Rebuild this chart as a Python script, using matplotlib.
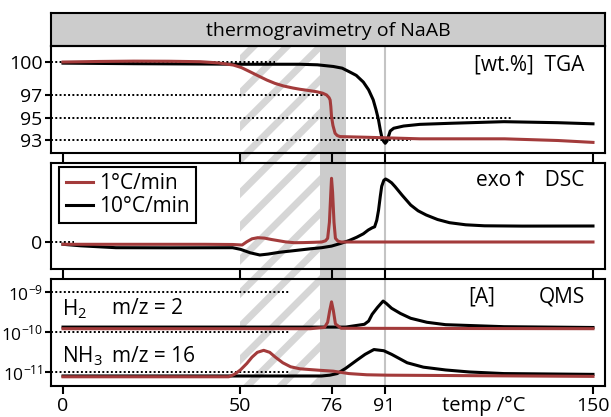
import numpy as np
import matplotlib
matplotlib.use("Agg")
import matplotlib.pyplot as plt

plt.rcParams['font.family'] = ['Open Sans', 'DejaVu Sans']
plt.rcParams['mathtext.fontset'] = 'custom'
plt.rcParams['mathtext.rm'] = 'Open Sans'
plt.rcParams['mathtext.it'] = 'Open Sans:italic'
plt.rcParams['axes.unicode_minus'] = False
plt.rcParams['hatch.linewidth'] = 5.0

RED = '#a33b3b'
GRAY = '#cccccc'

# ---- data ----
xticks = [0, 50, 76, 91, 150]

# TGA [wt.%]
tga_red_t = [0, 10, 20, 30, 38.8, 44, 48.2, 50.5, 52.9, 55.3, 57.7, 60, 62.4, 65, 67.1, 70, 71.8,
             73.5, 74.6, 75.3, 75.6, 75.8, 76.0, 76.4, 77.0, 77.6, 78.4, 86, 101, 125, 140, 150]
tga_red = [100.0, 100.05, 100.08, 100.07, 100.03, 99.92, 99.73, 99.5, 99.13, 98.75, 98.38, 98.08,
           97.85, 97.67, 97.55, 97.42, 97.33, 97.2, 97.04, 96.8, 96.59, 96.0, 95.09, 94.3, 93.6,
           93.4, 93.3, 93.24, 93.1, 93.1, 92.95, 92.78]
tga_blk_t = [0, 20, 40, 50, 60, 67, 72, 76.5, 79, 81.2, 83, 85, 86.5, 87.8, 88.6, 89.3, 89.8, 90.2,
             90.7, 91.2, 91.7, 92.1, 92.6, 93.6, 96.4, 101, 110, 124.8, 140, 150]
tga_blk = [99.9, 99.85, 99.82, 99.8, 99.8, 99.8, 99.75, 99.6, 99.45, 99.1, 98.8, 98.2, 97.5, 96.6,
           95.7, 94.8, 93.9, 93.3, 92.9, 92.7, 92.9, 93.3, 93.8, 94.05, 94.25, 94.4, 94.5, 94.64,
           94.55, 94.45]

# DSC [a.u.]
dsc_red_t = [0, 20, 40, 48, 50.7, 52, 53.5, 55.1, 57, 59, 61, 63, 65.5, 68, 71, 73.2, 74.3, 74.9,
             75.4, 75.8, 76.0, 76.3, 76.7, 77.1, 77.8, 78.7, 90, 150]
dsc_red = [-2, -2, -2, -2.2, -2.7, 0.5, 3.5, 4.6, 4.2, 2.8, 1.6, 0.4, -0.4, -0.3, 0, 0.3, 1.5, 4,
           20, 50, 64, 50, 20, 4, 1.2, 0.3, 0.3, 0.3]
dsc_blk_t = [0, 5, 15, 30, 48, 50.2, 53, 55.7, 58, 61.2, 65, 70, 73.2, 76, 78.7, 81, 83.1, 85, 86.4,
             87.5, 88.2, 88.8, 89.3, 89.8, 90.2, 90.8, 91.3, 92, 93, 94, 96, 98.4, 100.5, 102.8,
             106, 109.4, 114, 119.3, 130, 150]
dsc_blk = [-2, -3.5, -5.4, -5.5, -5.4, -7, -10.5, -12.7, -11.8, -10, -8.5, -6.5, -5.4, -3.8, -1,
           1.8, 5, 8.5, 12.3, 14.5, 15.5, 22, 32, 46, 56, 62, 63.3, 62, 59.5, 55.6, 47, 37.3, 31.5,
           27.3, 22.8, 19.6, 17.5, 16.5, 16.2, 16.3]

# QMS, log10 of ion current [A]
h2_red_t = [0, 70, 74, 74.9, 75.5, 76, 76.5, 77.1, 78.7, 150]
h2_red_log = [-9.91, -9.91, -9.88, -9.75, -9.45, -9.24, -9.45, -9.79, -9.9, -9.91]
h2_blk_t = [0, 80, 85.3, 86.5, 87.5, 89, 90.6, 91.5, 93, 95.5, 98.4, 103, 108.3, 124.8, 150]
h2_blk_log = [-9.87, -9.87, -9.8, -9.72, -9.55, -9.38, -9.22, -9.28, -9.4, -9.53, -9.65, -9.75,
              -9.81, -9.86, -9.88]
nh3_red_t = [0, 46.9, 48.5, 50.2, 52, 53.5, 55, 56.8, 58.5, 60.1, 62.2, 64.4, 67, 69.9, 73, 76.5,
             80.9, 86, 91.9, 150]
nh3_red_log = [-11.11, -11.11, -11.05, -10.94, -10.78, -10.62, -10.5, -10.45, -10.5, -10.62,
               -10.76, -10.86, -10.91, -10.93, -10.95, -10.97, -11.03, -11.06, -11.07, -11.1]
nh3_blk_t = [0, 73.2, 75.5, 77.6, 80, 83.1, 85.5, 88, 90.8, 93, 97.4, 102, 108.3, 115, 124.8, 150]
nh3_blk_log = [-11.09, -11.09, -11.07, -11.03, -10.9, -10.7, -10.55, -10.43, -10.46, -10.55,
               -10.76, -10.87, -10.94, -10.99, -11.03, -11.05]

W, H = 611, 417
XL, XR = 51, 605
xlim = (-3.4, 153.4)


def rect(top, bottom):
    return [XL / W, 1 - bottom / H, (XR - XL) / W, (bottom - top) / H]


fig = plt.figure(figsize=(W / 100, H / 100), dpi=100)

# background: hatched/grey regions and the 91 line, running through all panels
bg = fig.add_axes(rect(46, 386), zorder=0)
bg.set_xlim(xlim)
bg.set_ylim(0, 1)
bg.axis('off')
bg.axvspan(50, 72.7, facecolor='white', edgecolor='#d6d6d6', hatch='/', lw=0)
bg.axvspan(72.7, 80, facecolor=GRAY, lw=0)
bg.axvline(91, color='#c4c4c4', lw=1.5)

# title strip
tax = fig.add_axes(rect(13.3, 46), zorder=2)
tax.set_facecolor(GRAY)
tax.set_xticks([])
tax.set_yticks([])
tax.text(0.5, 0.45, 'thermogravimetry of NaAB', ha='center', va='center', fontsize=14,
         transform=tax.transAxes)

ax1 = fig.add_axes(rect(46, 153.3), zorder=2)
ax2 = fig.add_axes(rect(162.7, 268.5), zorder=2)
ax3 = fig.add_axes(rect(279, 386), zorder=2)

for ax, tl in [(ax1, 7.0), (ax2, 7.5), (ax3, 5.8)]:
    ax.patch.set_alpha(0)
    ax.set_xlim(xlim)
    ax.set_xticks(xticks)
    ax.tick_params(axis='x', direction='out', length=tl, width=1.5, labelsize=14, pad=2)
    ax.tick_params(axis='y', direction='out', length=4.5, width=1.5, labelsize=14, pad=1.5)
    ax.minorticks_off()
    for s in ax.spines.values():
        s.set_linewidth(1.5)
for s in tax.spines.values():
    s.set_linewidth(1.5)
ax1.tick_params(axis='x', labelbottom=False)
ax2.tick_params(axis='x', labelbottom=False)

dots = dict(color='black', ls=(0, (1, 1.2)), lw=1.4, zorder=1)

# TGA
ax1.set_ylim(91.8, 101.44)
ax1.set_yticks([100, 97, 95, 93])
ax1.hlines([100, 97, 95, 93], xlim[0], [60, 73.6, 127.5, 98.5], **dots)
ax1.plot(tga_blk_t, tga_blk, color='black', lw=2.2, zorder=3)
ax1.plot(tga_red_t, tga_red, color=RED, lw=2.2, zorder=4)
ax1.text(0.963, 0.82, '[wt.%]  TGA', ha='right', va='center', fontsize=15, transform=ax1.transAxes)

# DSC
ax2.set_ylim(-26.2, 79.6)
ax2.set_yticks([0])
ax2.hlines([0], xlim[0], 3, **dots)
lr, = ax2.plot(dsc_red_t, dsc_red, color=RED, lw=2.2, zorder=4, label='1°C/min')
lb, = ax2.plot(dsc_blk_t, dsc_blk, color='black', lw=2.2, zorder=3, label='10°C/min')
ax2.text(0.963, 0.83, 'exo\u2191   DSC', ha='right', va='center', fontsize=15, transform=ax2.transAxes)
leg = ax2.legend(handles=[lr, lb], loc='upper left', bbox_to_anchor=(0.015, 0.962), borderaxespad=0,
                 fontsize=15, handlelength=1.3, handletextpad=0.3, labelspacing=0.1,
                 borderpad=0.3, fancybox=False, framealpha=1, edgecolor='black')
leg.get_frame().set_linewidth(1.5)

# QMS
ax3.set_yscale('log')
ax3.set_ylim(10 ** -11.34, 10 ** -8.67)
ax3.set_yticks([1e-9, 1e-10, 1e-11])
ax3.minorticks_off()
ax3.tick_params(axis='y', labelsize=12.5, pad=1)
ax3.hlines([1e-9, 1e-10, 1e-11], xlim[0], 63.9, **dots)
ax3.plot(h2_blk_t, 10.0 ** np.array(h2_blk_log), color='black', lw=2.2, zorder=3)
ax3.plot(h2_red_t, 10.0 ** np.array(h2_red_log), color=RED, lw=2.2, zorder=4)
ax3.plot(nh3_blk_t, 10.0 ** np.array(nh3_blk_log), color='black', lw=2.2, zorder=3)
ax3.plot(nh3_red_t, 10.0 ** np.array(nh3_red_log), color=RED, lw=2.2, zorder=4)
ax3.text(0.02, 0.72, r'H$_\mathrm{2}$', ha='left', va='center', fontsize=15, transform=ax3.transAxes)
ax3.text(0.11, 0.72, 'm/z = 2', ha='left', va='center', fontsize=15, transform=ax3.transAxes)
ax3.text(0.02, 0.28, r'NH$_\mathrm{3}$', ha='left', va='center', fontsize=15, transform=ax3.transAxes)
ax3.text(0.11, 0.28, 'm/z = 16', ha='left', va='center', fontsize=15, transform=ax3.transAxes)
ax3.text(0.777, 0.83, '[A]', ha='center', va='center', fontsize=15, transform=ax3.transAxes)
ax3.text(0.963, 0.83, 'QMS', ha='right', va='center', fontsize=15, transform=ax3.transAxes)

fig.text(484 / W, 1 - 411 / H, 'temp /°C', ha='center', va='baseline', fontsize=14.5)

fig.savefig('out.png', dpi=100)
